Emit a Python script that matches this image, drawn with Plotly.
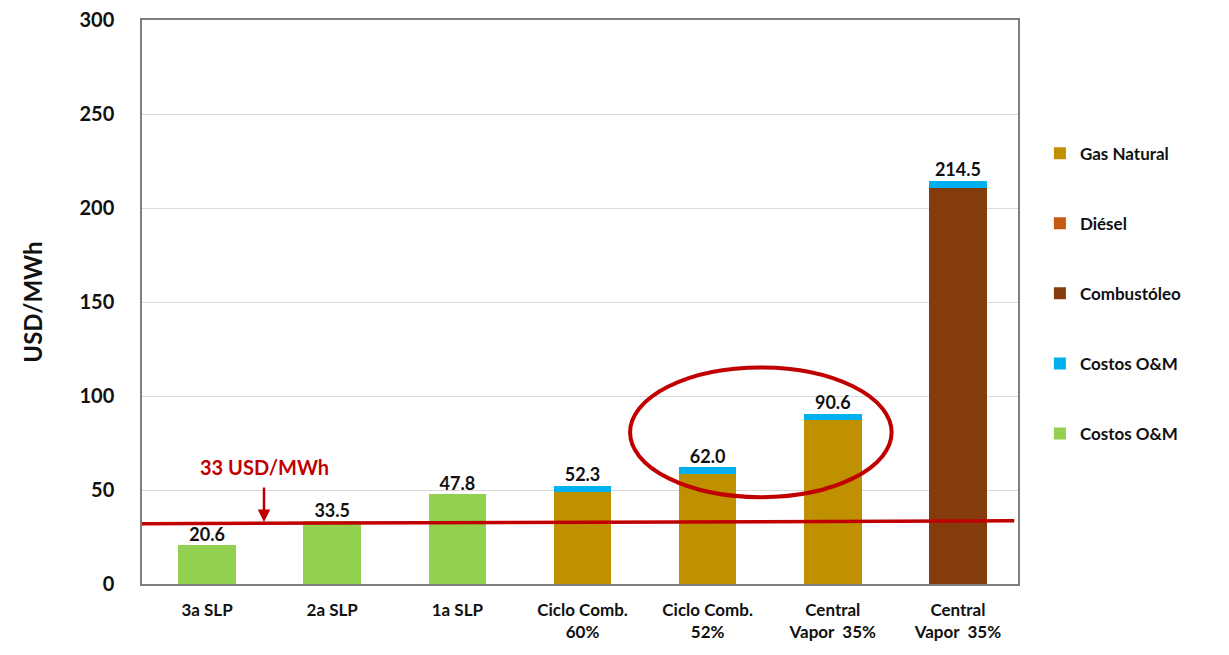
import plotly.graph_objects as go

categories = ["3a SLP", "2a SLP", "1a SLP", "Ciclo Comb.<br>60%", "Ciclo Comb.<br>52%",
              "Central<br>Vapor  35%", "Central<br>Vapor  35%"]
gas_natural = [None, None, None, 48.8, 58.5, 87.1, None]
diesel = [None, None, None, None, None, None, None]
combustoleo = [None, None, None, None, None, None, 210.5]
om_blue = [None, None, None, 3.5, 3.5, 3.5, 4.0]
om_green = [20.6, 33.5, 47.8, None, None, None, None]
totals = [20.6, 33.5, 47.8, 52.3, 62.0, 90.6, 214.5]
threshold = 33
threshold_line = [32.1, 33.6]

FONT = "Lato, 'Open Sans', sans-serif"
xs = list(range(len(categories)))

fig = go.Figure()
bw = 0.46
series = [
    ("Gas Natural", gas_natural, "#BF9000"),
    ("Diésel", diesel, "#C55A11"),
    ("Combustóleo", combustoleo, "#843C0C"),
    ("Costos O&M", om_blue, "#00B0F0"),
    ("Costos O&M", om_green, "#92D050"),
]
for i, (name, vals, col) in enumerate(series):
    fig.add_trace(go.Bar(
        x=xs, y=vals,
        name="<b>%s</b>" % name, marker=dict(color=col, line=dict(width=0)),
        width=bw, legendgroup=f"g{i}", showlegend=True,
    ))

# threshold line
fig.add_trace(go.Scatter(x=[-0.52, 6.45], y=threshold_line, mode="lines",
                         line=dict(color="#C00000", width=3.5), showlegend=False, hoverinfo="skip"))

# totals labels
fig.add_trace(go.Scatter(x=xs, y=totals, mode="text", text=["<b>%.1f</b>" % t for t in totals],
                         textposition="top center",
                         textfont=dict(family=FONT, size=18, color="#111111"),
                         showlegend=False, hoverinfo="skip"))

fig.update_layout(
    barmode="stack",
    width=1229, height=655,
    margin=dict(l=134, r=219, t=12, b=79),
    plot_bgcolor="white", paper_bgcolor="white",
    font=dict(family=FONT, color="#111111"),
    legend=dict(x=1.025, y=0.795, xanchor="left", yanchor="top",
                font=dict(family=FONT, size=17, color="#111111"),
                tracegroupgap=45, itemwidth=30, bgcolor="rgba(0,0,0,0)"),
    xaxis=dict(range=[-0.52, 6.48], tickvals=xs, ticktext=["<b>%s</b>" % c for c in categories],
               tickfont=dict(family=FONT, size=17, color="#111111"),
               ticklabelstandoff=10, ticklabeloverflow="allow",
               showline=True, linecolor="#7F7F7F", linewidth=1.5, mirror=True,
               showgrid=False, ticks="", automargin=False),
    yaxis=dict(range=[0, 300], tickvals=[0, 50, 100, 150, 200, 250, 300],
               ticktext=["<b>%d</b>" % v for v in [0, 50, 100, 150, 200, 250, 300]],
               tickfont=dict(family=FONT, size=20, color="#111111"),
               ticklabelstandoff=22, ticklabeloverflow="allow",
               showline=True, linecolor="#7F7F7F", linewidth=1.5, mirror=True,
               gridcolor="#D9D9D9", gridwidth=1, ticks="", zeroline=False, automargin=False,
               title=dict(text="<b>USD/MWh</b>", font=dict(family=FONT, size=24, color="#111111"),
                          standoff=30)),
    showlegend=True,
)

# ellipse
fig.add_shape(type="circle", xref="x", yref="y", x0=3.38, x1=5.47, y0=46.2, y1=115.2,
              line=dict(color="#C00000", width=4))

# annotation for threshold
fig.add_annotation(x=0.455, y=threshold, xref="x", yref="y", text="", showarrow=True,
                   arrowhead=2, arrowsize=1, arrowwidth=2.5, arrowcolor="#C00000",
                   ax=0, ay=-36)
fig.add_annotation(x=0.455, y=62.5, xref="x", yref="y", text="<b>33 USD/MWh</b>",
                   showarrow=False, font=dict(family=FONT, size=20, color="#C00000"))

fig.write_html("out.html")
